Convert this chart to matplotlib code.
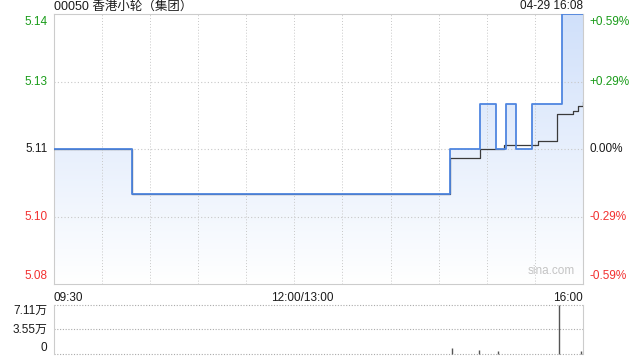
import numpy as np
import matplotlib
matplotlib.use("Agg")
import matplotlib.pyplot as plt
from matplotlib.colors import LinearSegmentedColormap

plt.rcParams['font.family'] = ['Liberation Sans', 'Noto Sans CJK SC', 'DejaVu Sans']

# minutes since 09:30 (lunch break removed; 330 = 16:00)
price_min = [0, 49, 247, 266, 276, 282, 288, 298, 317, 330]
price_val = [5.11, 5.10, 5.11, 5.12, 5.11, 5.12, 5.11, 5.12, 5.14, 5.14]

avg_min = [0, 49, 247, 266, 281, 302, 314, 324, 327, 330]
avg_val = [5.11, 5.10, 5.108, 5.110, 5.111, 5.1118, 5.1178, 5.1185, 5.1195, 5.1205]

vol_min = [248, 265, 277, 315, 329]
vol_val = [8700, 5800, 4300, 71100, 4000]

prev_close = 5.11
y_ticks = [5.08, 5.095, 5.11, 5.125, 5.14]
y_labels = ["5.08", "5.10", "5.11", "5.13", "5.14"]
pct_labels = ["-0.59%", "-0.29%", "0.00%", "+0.29%", "+0.59%"]
vol_ticks = [0, 35550, 71100]
vol_labels = ["0", "3.55万", "7.11万"]
x_labels = ["09:30", "12:00/13:00", "16:00"]

title = "00050 香港小轮（集团）"
stamp = "04-29 16:08"

GREEN = "#1a9c1a"
RED = "#f23030"
GRID = "#c8c8c8"
EDGE = "#cccccc"
LINE = "#4f86e0"
TXT = "#1a1a1a"

fig = plt.figure(figsize=(6.4, 3.6), dpi=100)
ax = fig.add_axes([0.084, 0.211, 0.827, 0.750])
axv = fig.add_axes([0.084, 0.017, 0.827, 0.136])

# price panel
ax.set_xlim(0, 330)
ax.set_ylim(5.08, 5.14)
for s in ax.spines.values():
    s.set_color(EDGE)
ax.set_xticks([])
ax.set_yticks([])
for m in range(30, 330, 30):
    ax.axvline(m, color=GRID, lw=0.7, ls=(0, (1, 2)), zorder=1)
for v in y_ticks[1:-1]:
    ax.axhline(v, color=GRID, lw=0.8, ls=(0, (1, 2)), zorder=1)

# gradient fill under price line
xs = np.array(price_min, dtype=float)
ys = np.array(price_val)
poly = ax.fill_between(xs, ys, 5.08, step='post', color='none', lw=0)
cmap = LinearSegmentedColormap.from_list("fade", ["#ffffff", "#d0e0fa"])
grad = np.linspace(0, 1, 256).reshape(-1, 1)
img = ax.imshow(grad, cmap=cmap, aspect='auto', origin='lower',
                extent=[0, 330, 5.08, 5.14], zorder=0)
img.set_clip_path(poly.get_paths()[0], transform=ax.transData)

ax.step(avg_min, avg_val, where='post', color='#3a3a3a', lw=0.9, zorder=3)
ax.step(price_min, price_val, where='post', color=LINE, lw=1.3, zorder=4)

ax.text(0.985, 0.025, "sina.com", transform=ax.transAxes, ha='right', va='bottom',
        color='#c4c4c4', fontsize=8.5)

colors = [RED, RED, TXT, GREEN, GREEN]
vas = ['bottom', 'center', 'center', 'center', 'top']
offs = [0.006, 0, 0, 0, -0.006]
for v, lab, pl, c, va, o in zip(y_ticks, y_labels, pct_labels, colors, vas, offs):
    yf = (v - 5.08) / 0.06 + o
    ax.text(-0.012, yf, lab, transform=ax.transAxes, ha='right', va=va, color=c, fontsize=8.5)
    ax.text(1.012, yf, pl, transform=ax.transAxes, ha='left', va=va, color=c, fontsize=8.5)

ax.text(0.0, -0.028, x_labels[0], transform=ax.transAxes, ha='left', va='top', fontsize=8.5, color=TXT)
ax.text(0.47, -0.028, x_labels[1], transform=ax.transAxes, ha='center', va='top', fontsize=8.5, color=TXT)
ax.text(1.0, -0.028, x_labels[2], transform=ax.transAxes, ha='right', va='top', fontsize=8.5, color=TXT)

fig.text(0.084, 0.982, title, ha='left', va='center', fontsize=9, color=TXT)
fig.text(0.911, 0.982, stamp, ha='right', va='center', fontsize=8.5, color=TXT)

# volume panel
axv.set_xlim(0, 330)
axv.set_ylim(0, 71100)
axv.set_xticks([])
axv.set_yticks([])
axv.spines['top'].set_visible(False)
axv.spines['bottom'].set_visible(False)
axv.spines['left'].set_color(EDGE)
axv.spines['right'].set_color(EDGE)
for v in vol_ticks:
    axv.axhline(v, color='#aaaaaa', lw=0.8, ls=(0, (1, 1.5)), zorder=1, clip_on=False)
axv.vlines(vol_min, 0, vol_val, color='#555555', lw=1.0, zorder=3, clip_on=False)
for v, lab, va in zip(vol_ticks, vol_labels, ['bottom', 'center', 'top']):
    axv.text(-0.012, v / 71100, lab, transform=axv.transAxes, ha='right', va=va,
             fontsize=8.5, color=TXT)

fig.savefig("out.png", dpi=100)
